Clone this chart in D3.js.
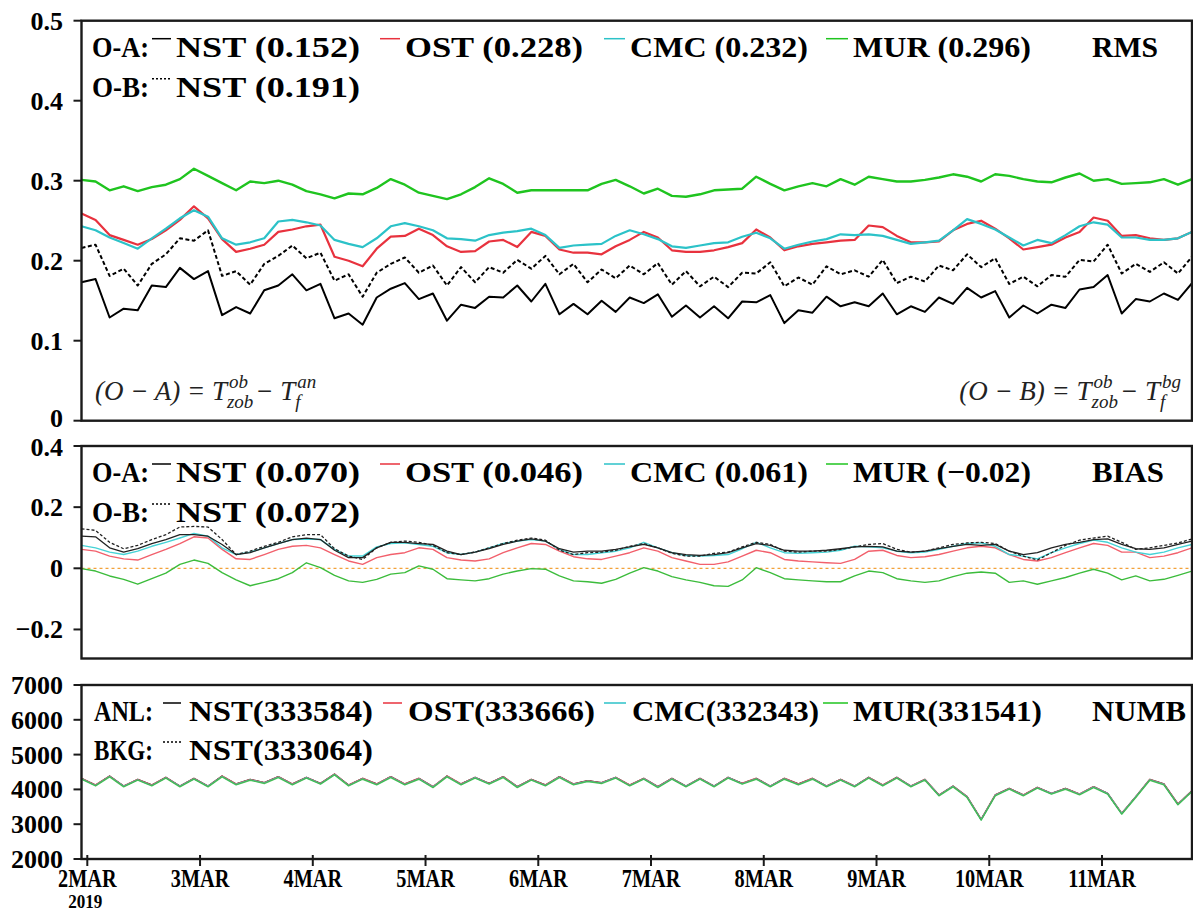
<!DOCTYPE html>
<html><head><meta charset="utf-8">
<script src="https://cdn.jsdelivr.net/npm/d3@7"></script>
<style>body{margin:0;background:#fff}svg{display:block}</style>
</head><body><svg id="c" width="1193" height="913"></svg>
<script>
// ---------------- DATA (3-hourly, 80 samples) ----------------
const dayLabels = ["2MAR","3MAR","4MAR","5MAR","6MAR","7MAR","8MAR","9MAR","10MAR","11MAR"];
const yearLabel = "2019";

const rmsNstA = [0.173,0.177,0.129,0.140,0.138,0.169,0.167,0.191,0.177,0.187,0.132,0.142,0.134,0.163,0.169,0.183,0.163,0.171,0.128,0.134,0.120,0.154,0.165,0.172,0.152,0.159,0.125,0.145,0.141,0.155,0.154,0.169,0.149,0.171,0.133,0.146,0.133,
0.150,0.136,0.154,0.147,0.158,0.130,0.144,0.129,0.143,0.128,0.149,0.148,0.157,0.122,0.138,0.135,0.155,0.143,0.148,0.143,0.159,0.133,0.143,0.136,0.154,0.146,0.166,0.154,0.162,0.129,0.144,0.134,0.145,0.141,0.164,0.167,0.182,0.134,0.152,0.149,0.159,0.151,0.172];
const rmsNstB = [0.216,0.220,0.181,0.190,0.169,0.196,0.208,0.228,0.225,0.238,0.181,0.187,0.170,0.196,0.206,0.219,0.203,0.210,0.175,0.183,0.155,0.185,0.196,0.204,0.185,0.194,0.169,0.192,0.173,0.192,0.185,0.201,0.190,0.206,0.183,0.196,0.173,
0.189,0.178,0.194,0.183,0.197,0.170,0.187,0.168,0.180,0.167,0.185,0.184,0.198,0.168,0.179,0.170,0.193,0.183,0.188,0.180,0.201,0.172,0.180,0.174,0.194,0.188,0.208,0.192,0.203,0.171,0.180,0.168,0.182,0.180,0.201,0.199,0.220,0.184,0.196,0.186,0.198,0.184,0.205];
const rmsOst = [0.259,0.251,0.232,0.226,0.220,0.227,0.238,0.251,0.268,0.253,0.227,0.211,0.215,0.220,0.236,0.239,0.243,0.245,0.205,0.200,0.193,0.215,0.230,0.231,0.240,0.232,0.218,0.211,0.212,0.224,0.226,0.217,0.236,0.231,0.214,0.210,0.210,
0.208,0.218,0.226,0.236,0.229,0.213,0.211,0.211,0.213,0.217,0.222,0.239,0.229,0.213,0.218,0.221,0.223,0.225,0.226,0.244,0.242,0.231,0.223,0.223,0.224,0.238,0.246,0.250,0.240,0.228,0.214,0.217,0.220,0.229,0.236,0.254,0.250,0.231,0.232,0.228,0.226,0.228,0.236];
const rmsCmc = [0.243,0.238,0.229,0.222,0.215,0.228,0.240,0.253,0.263,0.255,0.228,0.220,0.223,0.228,0.249,0.251,0.248,0.244,0.226,0.221,0.217,0.228,0.243,0.247,0.243,0.238,0.228,0.227,0.225,0.232,0.235,0.237,0.240,0.232,0.216,0.219,0.220,
0.221,0.231,0.238,0.233,0.227,0.218,0.216,0.219,0.222,0.223,0.230,0.235,0.228,0.215,0.220,0.224,0.227,0.233,0.232,0.233,0.231,0.226,0.221,0.223,0.225,0.238,0.252,0.246,0.239,0.229,0.219,0.226,0.222,0.232,0.243,0.248,0.245,0.229,0.229,0.226,0.226,0.228,0.236];
const rmsMur = [0.301,0.299,0.288,0.293,0.287,0.292,0.295,0.302,0.315,0.306,0.297,0.288,0.299,0.297,0.300,0.295,0.287,0.283,0.278,0.284,0.283,0.291,0.302,0.295,0.285,0.281,0.277,0.283,0.292,0.303,0.296,0.285,0.288,0.288,0.288,0.288,0.288,
0.296,0.301,0.293,0.284,0.290,0.281,0.280,0.283,0.288,0.289,0.290,0.305,0.296,0.288,0.293,0.297,0.293,0.302,0.295,0.305,0.302,0.299,0.299,0.301,0.304,0.308,0.305,0.299,0.308,0.306,0.302,0.299,0.298,0.304,0.309,0.300,0.302,0.296,0.297,0.298,0.302,0.295,0.302];

const biasNstA = [0.105,0.103,0.067,0.053,0.064,0.081,0.094,0.110,0.110,0.105,0.078,0.045,0.051,0.067,0.081,0.094,0.099,0.094,0.059,0.035,0.035,0.067,0.085,0.085,0.081,0.078,0.056,0.045,0.053,0.064,0.078,0.089,0.096,0.089,0.064,0.053,0.056,
0.056,0.062,0.070,0.078,0.067,0.051,0.045,0.042,0.045,0.051,0.067,0.081,0.075,0.059,0.056,0.056,0.059,0.064,0.070,0.072,0.070,0.056,0.053,0.056,0.064,0.072,0.078,0.075,0.078,0.056,0.045,0.051,0.067,0.078,0.085,0.094,0.096,0.078,0.064,0.062,0.067,0.078,0.089];
const biasNstB = [0.129,0.124,0.085,0.064,0.075,0.094,0.110,0.135,0.137,0.135,0.094,0.045,0.056,0.072,0.085,0.103,0.110,0.110,0.064,0.040,0.029,0.067,0.085,0.089,0.085,0.075,0.051,0.045,0.053,0.067,0.081,0.092,0.099,0.092,0.059,0.045,0.051,
0.053,0.059,0.072,0.081,0.067,0.049,0.040,0.040,0.049,0.053,0.070,0.085,0.078,0.056,0.053,0.056,0.056,0.062,0.070,0.078,0.081,0.062,0.053,0.056,0.067,0.078,0.083,0.085,0.081,0.056,0.040,0.027,0.051,0.075,0.092,0.099,0.105,0.085,0.062,0.067,0.075,0.083,0.096];
const biasOst = [0.062,0.056,0.040,0.031,0.027,0.045,0.062,0.081,0.103,0.099,0.062,0.031,0.029,0.045,0.062,0.072,0.075,0.067,0.045,0.024,0.013,0.035,0.045,0.051,0.067,0.062,0.035,0.027,0.024,0.031,0.051,0.067,0.081,0.078,0.056,0.038,0.031,
0.029,0.040,0.051,0.067,0.056,0.035,0.024,0.013,0.013,0.021,0.040,0.059,0.051,0.029,0.024,0.021,0.018,0.016,0.029,0.056,0.059,0.042,0.035,0.038,0.045,0.056,0.067,0.072,0.067,0.045,0.029,0.024,0.035,0.051,0.067,0.081,0.075,0.053,0.053,0.035,0.040,0.051,0.067];
const biasCmc = [0.075,0.067,0.053,0.045,0.056,0.072,0.085,0.099,0.114,0.105,0.067,0.045,0.053,0.067,0.081,0.094,0.096,0.094,0.062,0.040,0.040,0.070,0.081,0.083,0.078,0.072,0.051,0.045,0.053,0.067,0.081,0.089,0.094,0.089,0.062,0.045,0.045,
0.051,0.056,0.067,0.085,0.067,0.051,0.042,0.040,0.042,0.045,0.064,0.085,0.067,0.051,0.049,0.051,0.053,0.059,0.072,0.070,0.067,0.056,0.051,0.053,0.062,0.072,0.081,0.083,0.072,0.045,0.040,0.031,0.051,0.067,0.081,0.092,0.085,0.067,0.053,0.045,0.053,0.067,0.078];
const biasMur = [-0.001,-0.009,-0.025,-0.036,-0.052,-0.034,-0.016,0.013,0.027,0.016,-0.014,-0.038,-0.057,-0.046,-0.034,-0.014,0.018,0.002,-0.023,-0.041,-0.046,-0.036,-0.019,-0.014,0.008,-0.003,-0.034,-0.038,-0.041,-0.034,-0.019,-0.009,-0.001,-0.003,-0.025,-0.041,-0.044,
-0.049,-0.036,-0.016,0.002,-0.009,-0.027,-0.038,-0.046,-0.057,-0.059,-0.038,0.002,-0.014,-0.034,-0.038,-0.041,-0.044,-0.044,-0.025,-0.009,-0.014,-0.034,-0.041,-0.046,-0.041,-0.027,-0.016,-0.012,-0.016,-0.046,-0.041,-0.052,-0.041,-0.030,-0.016,-0.003,-0.016,-0.038,-0.025,-0.041,-0.036,-0.023,-0.009];

const numbNstA = [4318,4126,4385,4097,4289,4126,4347,4097,4318,4097,4385,4155,4289,4193,4366,4155,4347,4174,4442,4126,4318,4155,4366,4155,4318,4078,4385,4155,4347,4174,4366,4078,4289,4126,4366,4155,4251,
4193,4347,4126,4318,4078,4318,4097,4318,4097,4347,4174,4318,4097,4318,4155,4318,4097,4289,4097,4347,4126,4347,4097,4289,3839,4097,3791,3139,3839,4030,3839,4059,3887,4030,3867,4078,3887,3312,3791,4289,4155,3580,3963];
const numbNstB = [4310,4120,4380,4090,4280,4120,4340,4090,4310,4090,4380,4150,4280,4190,4360,4150,4340,4170,4430,4120,4310,4150,4360,4150,4310,4070,4380,4150,4340,4170,4360,4070,4280,4120,4360,4150,4245,
4190,4340,4120,4310,4070,4310,4090,4310,4090,4340,4170,4310,4090,4310,4150,4310,4090,4280,4090,4340,4120,4340,4090,4280,3830,4090,3785,3135,3830,4025,3830,4050,3880,4025,3860,4070,3880,3305,3785,4280,4150,3575,3955];
const numbOst = [4320,4128,4386,4098,4290,4128,4348,4098,4320,4098,4386,4156,4290,4194,4368,4156,4348,4176,4440,4128,4320,4156,4368,4156,4320,4080,4386,4156,4348,4176,4368,4080,4290,4128,4368,4156,4252,
4194,4348,4128,4320,4080,4320,4098,4320,4098,4348,4176,4320,4098,4320,4156,4320,4098,4290,4098,4348,4128,4348,4098,4290,3840,4098,3792,3140,3840,4032,3840,4060,3888,4032,3868,4080,3888,3314,3792,4290,4156,3582,3964];
const numbCmc = [4300,4110,4370,4085,4275,4110,4335,4085,4300,4085,4370,4140,4275,4180,4350,4140,4335,4160,4425,4110,4300,4140,4350,4140,4300,4065,4370,4140,4335,4160,4350,4065,4275,4110,4350,4140,4235,
4180,4335,4110,4300,4065,4300,4085,4300,4085,4335,4160,4300,4085,4300,4140,4300,4085,4275,4085,4335,4110,4335,4085,4275,3825,4085,3780,3125,3825,4015,3825,4045,3875,4015,3855,4065,3875,3300,3780,4275,4140,3565,3950];
const numbMur = [4292,4100,4360,4072,4264,4100,4322,4072,4292,4072,4360,4130,4264,4168,4340,4130,4322,4150,4416,4100,4292,4130,4340,4130,4292,4052,4360,4130,4322,4150,4340,4052,4264,4100,4340,4130,4226,
4168,4322,4100,4292,4052,4292,4072,4292,4072,4322,4150,4292,4072,4292,4130,4292,4072,4264,4072,4322,4100,4322,4072,4264,3814,4072,3766,3114,3814,4005,3814,4034,3862,4005,3842,4052,3862,3288,3766,4264,4130,3556,3938];

const rmsTicks = [0, 0.1, 0.2, 0.3, 0.4, 0.5];
const biasTicks = [-0.2, 0, 0.2, 0.4];
const numbTicks = [2000, 3000, 4000, 5000, 6000, 7000];

// ---------------- DRAW ----------------
const W = 1193, H = 913;
const svg = d3.select('#c');
svg.append('rect').attr('width', W).attr('height', H).attr('fill', '#fff');

const X0 = 81.5, X1 = 1192;
const xi = d3.scaleLinear().domain([0, 79]).range([X0, X1]);          // sample index
const xDay = d3.scaleLinear().domain([2, 11]).range([87.3, 1102]);    // day of March

const SERIF = "'Liberation Serif','DejaVu Serif',serif";
const C = {black:'#000', red:'#e8323e', cyan:'#2cc2c8', green:'#1fc41f',
           redL:'#f2606c', cyanL:'#46d3d6', greenL:'#3cbc3c'};

function fmt(v){ return v < 0 ? '\u2212' + Math.abs(v) : String(v); }

function panel(cfg){
  const g = svg.append('g');
  const y = d3.scaleLinear().domain(cfg.domain).range([cfg.bottom, cfg.top]);
  const clipId = 'clip' + cfg.id;
  svg.append('clipPath').attr('id', clipId).append('rect')
     .attr('x', X0).attr('y', cfg.top).attr('width', X1 - X0).attr('height', cfg.bottom - cfg.top);
  const plot = g.append('g').attr('clip-path', `url(#${clipId})`);
  if (cfg.zero) {
    plot.append('line').attr('x1', X0).attr('x2', X1).attr('y1', y(0)).attr('y2', y(0))
      .attr('stroke', '#f3a23a').attr('stroke-width', 1.3).attr('stroke-dasharray', '3,3');
  }
  const line = d3.line().x((d, i) => xi(i)).y(d => y(d));
  cfg.series.forEach(s => {
    plot.append('path').datum(s.data).attr('d', line).attr('fill', 'none')
      .attr('stroke', s.color).attr('stroke-width', s.w)
      .attr('stroke-dasharray', s.dash || null).attr('stroke-linejoin', 'round')
      .attr('opacity', s.op || 1);
  });
  g.append('rect').attr('x', X0).attr('y', cfg.top).attr('width', X1 - X0).attr('height', cfg.bottom - cfg.top)
    .attr('fill', 'none').attr('stroke', '#1a1a1a').attr('stroke-width', 2.4);
  cfg.ticks.forEach(t => {
    g.append('line').attr('x1', X0 - 8).attr('x2', X0).attr('y1', y(t)).attr('y2', y(t))
      .attr('stroke', '#1a1a1a').attr('stroke-width', 2);
    const dy = (cfg.labelShift && cfg.labelShift(t)) || 9;
    g.append('text').attr('x', 63).attr('y', y(t) + dy).attr('text-anchor', 'end')
      .attr('font-family', SERIF).attr('font-weight', 'bold').attr('font-size', 26)
      .text(cfg.tickFmt(t));
  });
  return {g, y};
}

function T(g, s, x, y, size, len){
  const t = g.append('text').attr('x', x).attr('y', y).attr('font-family', SERIF)
    .attr('font-weight', 'bold').attr('font-size', size).text(s);
  if (len) t.attr('textLength', len).attr('lengthAdjust', 'spacingAndGlyphs');
  return t;
}
function sample(g, x1, x2, y, color, dash){
  g.append('line').attr('x1', x1).attr('x2', x2).attr('y1', y).attr('y2', y)
    .attr('stroke', color).attr('stroke-width', 1.5).attr('stroke-dasharray', dash || null);
}

// ---- RMS panel ----
panel({id:1, top:20.7, bottom:420.7, domain:[0,0.5], ticks:rmsTicks,
  tickFmt: t => t === 0 ? '0' : d3.format('.1f')(t),
  labelShift: t => t === 0 ? 6 : 9,
  series:[
    {data:rmsNstA, color:C.black, w:2},
    {data:rmsNstB, color:C.black, w:2, dash:'4,2.5'},
    {data:rmsOst, color:C.red, w:2.2},
    {data:rmsCmc, color:C.cyan, w:2.2},
    {data:rmsMur, color:C.green, w:2.4}
  ]});

// ---- BIAS panel ----
panel({id:2, top:446, bottom:658.5, domain:[-0.295,0.4], ticks:biasTicks, zero:true,
  tickFmt: t => t === 0 ? '0' : fmt(d3.format('.1f')(t)),
  labelShift: t => t === 0.4 ? 10 : 9,
  series:[
    {data:biasMur, color:C.greenL, w:1.4},
    {data:biasOst, color:C.redL, w:1.4},
    {data:biasCmc, color:C.cyanL, w:1.4},
    {data:biasNstA, color:'#222', w:1.3},
    {data:biasNstB, color:'#222', w:1.3, dash:'3,2'}
  ]});

// ---- NUMB panel ----
panel({id:3, top:685, bottom:859, domain:[2000,7000], ticks:numbTicks,
  tickFmt: t => String(t),
  series:[
    {data:numbNstA, color:C.black, w:1.4, op:0.85},
    {data:numbNstB, color:C.black, w:1.2, dash:'3,2', op:0.8},
    {data:numbOst, color:C.redL, w:1.4, op:0.8},
    {data:numbCmc, color:C.cyanL, w:1.4, op:0.8},
    {data:numbMur, color:C.greenL, w:1.4, op:0.8}
  ]});

// ---- x axis ----
const gx = svg.append('g');
dayLabels.forEach((lab, i) => {
  const xx = xDay(i + 2);
  gx.append('line').attr('x1', xx).attr('x2', xx).attr('y1', 855).attr('y2', 866)
    .attr('stroke', '#1a1a1a').attr('stroke-width', 2);
  gx.append('text').attr('transform', `translate(${xx},887) scale(0.78,1)`)
    .attr('text-anchor', 'middle').attr('font-family', SERIF).attr('font-weight', 'bold')
    .attr('font-size', 26).text(lab);
});
gx.append('text').attr('transform', `translate(${xDay(2) - 2},908) scale(0.9,1)`)
  .attr('text-anchor', 'middle').attr('font-family', SERIF).attr('font-weight', 'bold')
  .attr('font-size', 19).text(yearLabel);

// ---- legends ----
function legendAB(g, top, vals, valB, title, titleLen){
  const b1 = top + 36, b2 = top + 76, ly = -18;
  T(g, 'O-A:', 92, b1, 30, 57);
  sample(g, 152, 171, b1 + ly, C.black);
  T(g, 'NST (' + vals[0] + ')', 176, b1, 30, 184);
  sample(g, 380, 400, b1 + ly, C.red);
  T(g, 'OST (' + vals[1] + ')', 405, b1, 30, 178);
  sample(g, 604, 625, b1 + ly, C.cyan);
  T(g, 'CMC (' + vals[2] + ')', 630, b1, 30, 178);
  sample(g, 826, 848, b1 + ly, C.green);
  T(g, 'MUR (' + vals[3] + ')', 853, b1, 30, 178);
  T(g, title, 1092, b1, 30, titleLen);
  T(g, 'O-B:', 92, b2, 30, 57);
  sample(g, 152, 171, b2 + ly, C.black, '2,2');
  T(g, 'NST (' + valB + ')', 176, b2, 30, 184);
}
legendAB(svg, 20.7, ['0.152','0.228','0.232','0.296'], '0.191', 'RMS', 66);
legendAB(svg, 446, ['0.070','0.046','0.061','\u22120.02'], '0.072', 'BIAS', 72);

(function(){
  const top = 685, b1 = top + 36, b2 = top + 75, ly = -18;
  T(svg, 'ANL:', 94, b1, 30, 59);
  sample(svg, 163, 181, b1 + ly, C.black);
  T(svg, 'NST(333584)', 189, b1, 30, 184);
  sample(svg, 383, 402, b1 + ly, C.red);
  T(svg, 'OST(333666)', 408, b1, 30, 187);
  sample(svg, 604, 626, b1 + ly, C.cyan);
  T(svg, 'CMC(332343)', 632, b1, 30, 187);
  sample(svg, 823, 848, b1 + ly, C.green);
  T(svg, 'MUR(331541)', 853, b1, 30, 189);
  T(svg, 'NUMB', 1092, b1, 30, 94);
  T(svg, 'BKG:', 94, b2, 30, 59);
  sample(svg, 163, 181, b2 + ly, C.black, '2,2');
  T(svg, 'NST(333064)', 189, b2, 30, 184);
})();

// ---- formulas ----
function formula(g, xStart, xEnd, y, lhs, sup2){
  const fg = g.append('g');
  const it = (s, x, yy, size) => fg.append('text').attr('x', x).attr('y', yy)
      .attr('font-family', SERIF).attr('font-style', 'italic').attr('font-size', size)
      .attr('fill', '#222').text(s);
  let t = it(lhs + ' = T', 0, y, 27);
  let cx = t.node().getComputedTextLength();
  const a = it('ob', cx + 2, y - 12, 19), b = it('zob', cx, y + 8, 19);
  cx += Math.max(a.node().getComputedTextLength() + 2, b.node().getComputedTextLength()) + 2;
  t = it(' \u2212 T', cx, y, 27);
  cx += t.node().getComputedTextLength();
  const c = it(sup2, cx + 2, y - 12, 19), d = it('f', cx, y + 8, 19);
  cx += Math.max(c.node().getComputedTextLength() + 2, d.node().getComputedTextLength());
  const x0 = xStart !== null ? xStart : xEnd - cx;
  fg.attr('transform', `translate(${x0},0)`);
}
formula(svg, 95, null, 400, '(O \u2212 A)', 'an');
formula(svg, null, 1181, 400, '(O \u2212 B)', 'bg');
</script>
</body></html>
